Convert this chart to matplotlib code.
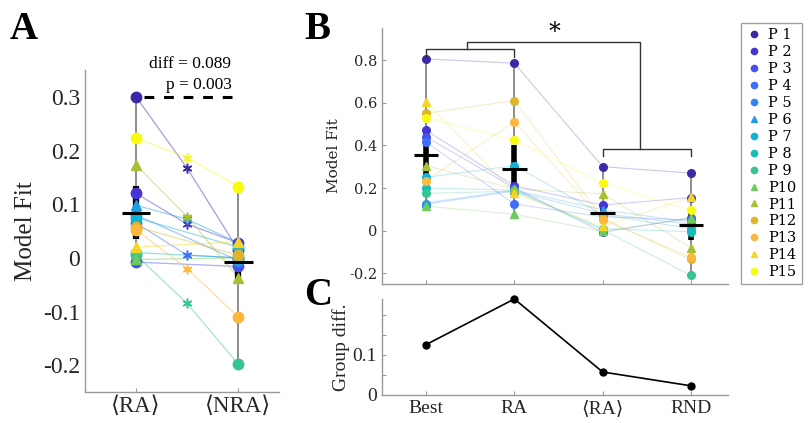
import numpy as np
import matplotlib.pyplot as plt

# participants and their colours / markers
participants = ['P%2d' % i for i in range(1, 16)]
colors = ['#3e26a8', '#4535d4', '#4650ee', '#3e6cfb', '#2f86f4',
          '#1d9de8', '#0fb4d4', '#14bdb6', '#35c591', '#6ccb5c',
          '#a6c132', '#dcb52c', '#fbb83c', '#f6d425', '#f9fb0e']
markers = ['o', 'o', 'o', 'o', 'o', '^', 'o', 'o', 'o', '^', '^', 'o', 'o', '^', 'o']

# panel A: <RA>, intermediate (stars), <NRA>
ra_avg = [0.300, 0.120, -0.008, 0.065, 0.080, 0.098, 0.075, 0.010, 0.005,
          -0.003, 0.173, 0.058, 0.052, 0.020, 0.223]
ra_mid = [0.167, 0.063, np.nan, 0.005, np.nan, 0.072, np.nan, np.nan, -0.085,
          np.nan, 0.077, np.nan, -0.020, np.nan, 0.187]
nra_avg = [0.015, 0.028, -0.016, 0.000, -0.005, 0.028, 0.020, 0.000, -0.198,
           0.000, -0.037, 0.005, -0.110, 0.030, 0.133]
a_labels = ['\u27e8RA\u27e9', '\u27e8NRA\u27e9']

# panel B: model fit for each model
best = [0.805, 0.470, 0.440, 0.415, 0.125, 0.130, 0.250, 0.200, 0.175,
        0.115, 0.305, 0.550, 0.235, 0.605, 0.530]
ra = [0.785, 0.210, 0.200, 0.125, 0.185, 0.190, 0.305, 0.190, 0.185,
      0.077, 0.195, 0.610, 0.510, 0.175, 0.425]
rnd = [0.270, 0.155, 0.060, 0.050, 0.030, 0.040, 0.010, -0.005, -0.210,
       0.060, -0.080, -0.135, -0.125, 0.157, 0.095]
b_labels = ['Best', 'RA', '\u27e8RA\u27e9', 'RND']

# panel C: group difference
group_diff = [0.126, 0.240, 0.0575, 0.023]

serif = ['Liberation Serif', 'DejaVu Serif', 'DejaVu Sans']
serif2 = ['DejaVu Serif', 'DejaVu Sans']
axcol = '#9a9a9a'
txtcol = '#262626'


def style(ax):
    for s in ['top', 'right']:
        ax.spines[s].set_visible(False)
    for s in ['left', 'bottom']:
        ax.spines[s].set_color(axcol)
        ax.spines[s].set_linewidth(1.0)
    ax.tick_params(direction='in', color=axcol, length=3, labelcolor=txtcol)


def summary(ax, x, vals, half, lw_ci):
    vals = np.asarray(vals)
    m = vals.mean()
    ci = 2.145 * vals.std(ddof=1) / np.sqrt(len(vals))
    ax.plot([x, x], [vals.min(), vals.max()], color='#7a7a7a', lw=1.2, zorder=2)
    ax.plot([x, x], [m - ci, m + ci], color='black', lw=lw_ci, zorder=3,
            solid_capstyle='butt')
    ax.plot([x - half, x + half], [m, m], color='black', lw=2.2, zorder=6,
            solid_capstyle='butt')


fig = plt.figure(figsize=(8.12, 4.23), dpi=100)

# ---------------- panel A
axA = fig.add_axes([0.1047, 0.0733, 0.239, 0.761])
style(axA)
xa = [1, 1.5, 2]
for i in range(15):
    ys = [ra_avg[i], ra_mid[i], nra_avg[i]]
    xs = [x for x, y in zip(xa, ys) if not np.isnan(y)]
    ys = [y for y in ys if not np.isnan(y)]
    axA.plot(xs, ys, color=colors[i], lw=0.9, alpha=0.45, zorder=1)
summary(axA, 1, ra_avg, 0.14, 4.5)
summary(axA, 2, nra_avg, 0.14, 4.5)
for i in range(15):
    axA.plot([1, 2], [ra_avg[i], nra_avg[i]], ls='none', marker=markers[i],
             ms=7.5, color=colors[i], zorder=4)
    if not np.isnan(ra_mid[i]):
        axA.plot(1.5, ra_mid[i], ls='none', marker=(6, 2, 0), ms=7,
                 mew=1.1, color=colors[i], zorder=4)
axA.plot([1.08, 2.0], [0.3, 0.3], ls=(0, (3.2, 3.2)), color='black', lw=2.2, zorder=5)
axA.text(1.53, 0.346, 'diff = 0.089', ha='center', va='bottom', fontsize=12.5,
         family=serif, color='black')
axA.text(1.62, 0.307, 'p = 0.003', ha='center', va='bottom', fontsize=12.5,
         family=serif, color='black')
axA.set_xlim(0.5, 2.4)
axA.set_ylim(-0.25, 0.35)
axA.set_xticks([1, 2])
axA.set_xticklabels(a_labels, family=serif, fontsize=16.5)
axA.set_yticks([-0.2, -0.1, 0, 0.1, 0.2, 0.3])
axA.set_yticklabels(['-0.2', '-0.1', '0', '0.1', '0.2', '0.3'], family=serif, fontsize=17)
axA.tick_params(axis='y', length=0)
axA.tick_params(axis='x', pad=3)
axA.set_ylabel('Model Fit', family=serif, fontsize=18, color=txtcol, labelpad=4)
fig.text(0.012, 0.975, 'A', family=serif, fontsize=28, fontweight='bold', va='top')

# ---------------- panel B
axB = fig.add_axes([0.4704, 0.3286, 0.4261, 0.6052])
style(axB)
cols = [best, ra, ra_avg, rnd]
xb = np.arange(1, 5)
for i in range(15):
    axB.plot(xb, [c[i] for c in cols], color=colors[i], lw=0.8, alpha=0.25, zorder=1)
summary(axB, 1, best, 0.14, 4)
summary(axB, 2, ra, 0.14, 4)
summary(axB, 3, ra_avg, 0.14, 4)
summary(axB, 4, rnd, 0.14, 4)
for i in range(15):
    axB.plot(xb, [c[i] for c in cols], ls='none', marker=markers[i], ms=5.5,
             color=colors[i], zorder=4)
# significance brackets
bk = dict(color='#333333', lw=1.0, zorder=5, clip_on=False)
axB.plot([1, 1, 2, 2], [0.815, 0.85, 0.85, 0.815], **bk)
axB.plot([1.46, 1.46, 3.42, 3.42], [0.85, 0.883, 0.883, 0.383], **bk)
axB.plot([3, 3, 4, 4], [0.348, 0.383, 0.383, 0.348], **bk)
axB.text(2.46, 0.875, '*', ha='center', va='bottom', fontsize=17, family=serif2)
axB.set_xlim(0.5, 4.42)
axB.set_ylim(-0.25, 0.95)
axB.set_xticks(xb)
axB.set_xticklabels([])
axB.set_yticks([-0.2, 0, 0.2, 0.4, 0.6, 0.8])
axB.set_yticklabels(['-0.2', '0', '0.2', '0.4', '0.6', '0.8'], family=serif2, fontsize=10.5)
axB.set_ylabel('Model Fit', family=serif2, fontsize=11, color=txtcol, labelpad=6)
fig.text(0.375, 0.975, 'B', family=serif, fontsize=28, fontweight='bold', va='top')

# legend
handles = [plt.Line2D([], [], ls='none', marker=markers[i], ms=4.5, color=colors[i])
           for i in range(15)]
leg = fig.legend(handles, participants, loc='upper left', bbox_to_anchor=(0.913, 0.945),
                 prop={'family': serif2, 'size': 10.5}, frameon=True, fancybox=False,
                 handlelength=1.0, handletextpad=0.5, labelspacing=0.2,
                 borderpad=0.35, borderaxespad=0)
leg.get_frame().set_edgecolor('#8a8a8a')
leg.get_frame().set_linewidth(1.0)

# ---------------- panel C
axC = fig.add_axes([0.4704, 0.0662, 0.4261, 0.227])
style(axC)
axC.plot(xb, group_diff, color='black', lw=1.2, marker='o', ms=5, clip_on=False, zorder=3)
axC.set_xlim(0.5, 4.42)
axC.set_ylim(0, 0.24)
axC.set_xticks(xb)
axC.set_xticklabels(b_labels, family=serif, fontsize=14)
axC.set_yticks([0, 0.05, 0.1, 0.15, 0.2])
axC.set_yticklabels(['0', '', '0.1', '', ''], family=serif, fontsize=14)
axC.set_ylabel('Group diff.', family=serif, fontsize=14, color=txtcol, labelpad=2)
fig.text(0.375, 0.345, 'C', family=serif, fontsize=28, fontweight='bold', va='top')

fig.savefig('out.png', dpi=100)
